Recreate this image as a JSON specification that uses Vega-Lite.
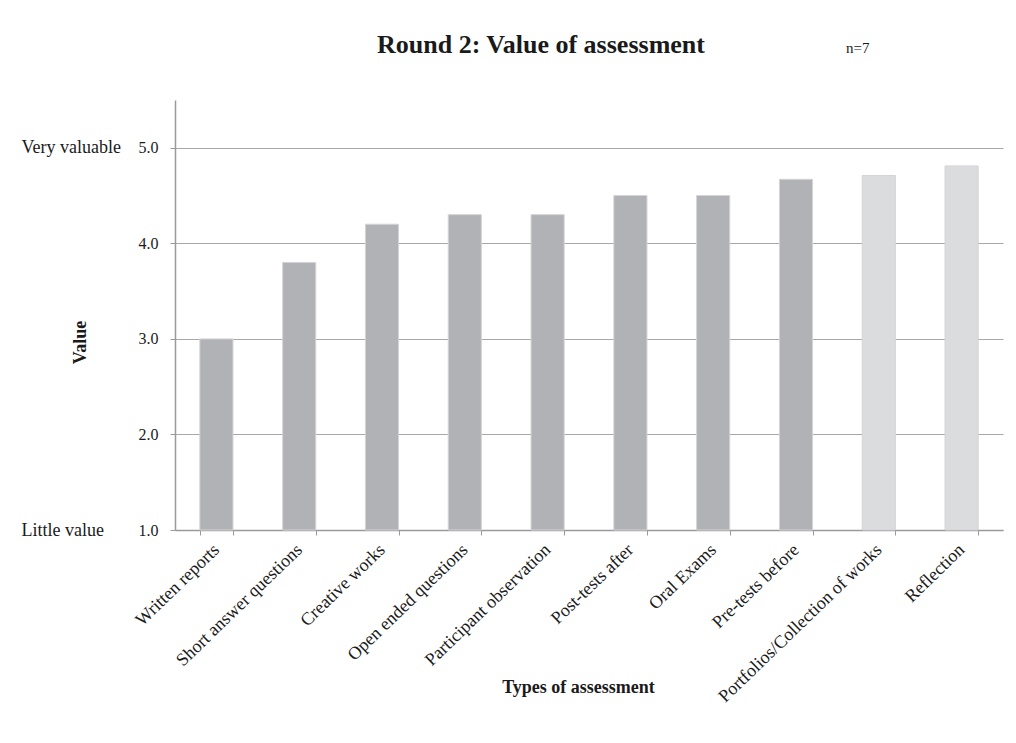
{
  "$schema": "https://vega.github.io/schema/vega-lite/v6.json",
  "width": 828,
  "height": 430,
  "autosize": {"type": "none"},
  "padding": {"left": 175, "top": 100, "right": 13, "bottom": 213},
  "background": "white",
  "title": {
    "text": "Round 2: Value of assessment",
    "font": "Liberation Serif",
    "fontSize": 26,
    "fontWeight": "bold",
    "color": "#1a1a1a",
    "anchor": "start",
    "frame": "group",
    "baseline": "alphabetic",
    "dx": 202,
    "offset": -38
  },
  "config": {"view": {"stroke": null}, "font": "Liberation Serif"},
  "data": {
    "values": [
      {"assessment": "Written reports", "value": 3.0},
      {"assessment": "Short answer questions", "value": 3.8},
      {"assessment": "Creative works", "value": 4.2},
      {"assessment": "Open ended questions", "value": 4.3},
      {"assessment": "Participant observation", "value": 4.3},
      {"assessment": "Post-tests after", "value": 4.5},
      {"assessment": "Oral Exams", "value": 4.5},
      {"assessment": "Pre-tests before", "value": 4.67},
      {"assessment": "Portfolios/Collection of works", "value": 4.71},
      {"assessment": "Reflection", "value": 4.81}
    ]
  },
  "layer": [
    {
      "mark": {"type": "bar", "stroke": "#d4d4d6", "strokeWidth": 1},
      "encoding": {
        "x": {
          "field": "assessment",
          "type": "nominal",
          "sort": null,
          "scale": {"paddingInner": 0.6, "paddingOuter": 0.3},
          "axis": {
            "title": "Types of assessment",
            "titleFont": "Liberation Serif",
            "titleFontSize": 18,
            "titleFontWeight": "bold",
            "titleColor": "#1a1a1a",
            "titleX": 403,
            "titleY": 148,
            "labelAngle": -44,
            "labelFontSize": 18,
            "labelColor": "#1a1a1a",
            "labelBaseline": "middle",
            "labelPadding": 12,
            "labelOffset": 0,
            "labelLimit": 300,
            "tickBand": "extent",
            "tickSize": 5,
            "tickColor": "#9a9a9a",
            "domainColor": "#9a9a9a",
            "domainWidth": 1.5,
            "grid": false
          }
        },
        "y": {
          "field": "value",
          "type": "quantitative",
          "scale": {"domain": [1, 5.5], "nice": false, "zero": false},
          "axis": {
            "values": [1, 2, 3, 4, 5],
            "format": ".1f",
            "title": "Value",
            "titleFont": "Liberation Serif",
            "titleFontSize": 18,
            "titleFontWeight": "bold",
            "titleColor": "#1a1a1a",
            "titleX": -86,
            "titleY": 242,
            "labelFontSize": 16,
            "labelColor": "#1a1a1a",
            "labelPadding": 12,
            "tickSize": 5,
            "tickColor": "#9a9a9a",
            "domainColor": "#9a9a9a",
            "domainWidth": 1.5,
            "grid": true,
            "gridColor": "#a8a8a8",
            "gridWidth": 1
          }
        },
        "y2": {"datum": 1},
        "color": {
          "condition": {
            "test": "datum.assessment === 'Portfolios/Collection of works' || datum.assessment === 'Reflection'",
            "value": "#dbdcde"
          },
          "value": "#b1b2b6"
        }
      }
    },
    {
      "data": {"values": [{"note": "n=7"}]},
      "mark": {"type": "text", "font": "Liberation Serif", "fontSize": 15, "color": "#1a1a1a", "baseline": "middle", "align": "center", "dx": -21},
      "encoding": {
        "x": {"datum": "Portfolios/Collection of works"},
        "y": {"datum": 6.04, "type": "quantitative", "scale": {"domain": [1, 5.5], "nice": false, "zero": false}, "axis": null},
        "text": {"field": "note"}
      }
    },
    {
      "mark": {"type": "point", "opacity": 0},
      "encoding": {
        "x": {"field": "assessment", "type": "nominal", "sort": null},
        "y": {
          "field": "value",
          "type": "quantitative",
          "scale": {"domain": [1, 5.5], "nice": false, "zero": false},
          "axis": {
            "orient": "left",
            "offset": 50,
            "values": [1, 5],
            "labelExpr": "datum.value == 5 ? 'Very valuable' : 'Little value'",
            "labelFontSize": 18,
            "labelColor": "#1a1a1a",
            "labelAlign": "left",
            "labelPadding": 104,
            "domain": false,
            "ticks": false,
            "grid": false,
            "title": null
          }
        }
      }
    }
  ],
  "resolve": {"scale": {"y": "independent"}}
}
